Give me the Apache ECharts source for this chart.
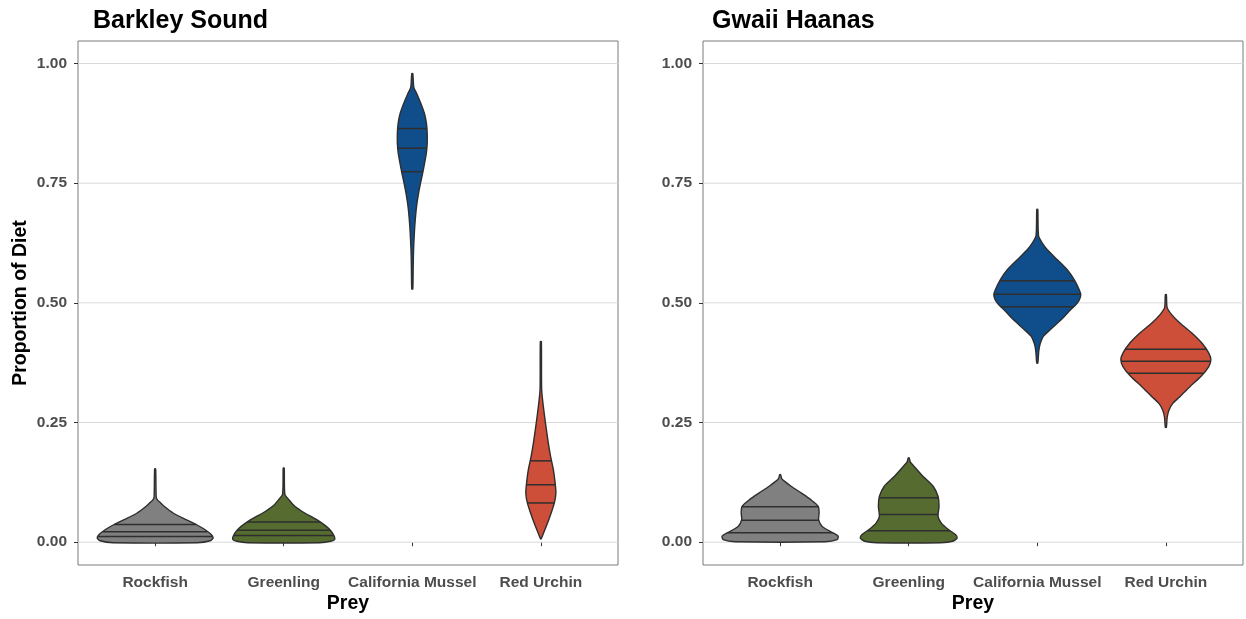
<!DOCTYPE html>
<html>
<head>
<meta charset="utf-8">
<script src="https://cdn.jsdelivr.net/npm/echarts@6/dist/echarts.min.js"></script>
<style>
html,body{margin:0;padding:0;background:#fff;}
#chart{width:1246px;height:619px;}
</style>
</head>
<body>
<div id="chart"></div>
<script>
// ---------- data ----------
const preys = ['Rockfish', 'Greenling', 'California Mussel', 'Red Urchin'];
const preyPositions = [1, 2, 3, 4];
const panelTitles = ['Barkley Sound', 'Gwaii Haanas'];
const yTicks = [0, 0.25, 0.5, 0.75, 1];
const yTickLabels = ['0.00', '0.25', '0.50', '0.75', '1.00'];

// violin outlines: proportion values (y) and half-widths (in category-band units)
// Barkley Sound
const bsRockfishY = [0.153, 0.095, 0.089, 0.082, 0.075, 0.061, 0.047, 0.037, 0.026, 0.016, 0.009, 0.003, -0.001];
const bsRockfishW = [0.004, 0.008, 0.016, 0.043, 0.070, 0.140, 0.241, 0.319, 0.389, 0.436, 0.451, 0.428, 0.327];
const bsGreenlingY = [0.155, 0.100, 0.089, 0.075, 0.061, 0.047, 0.033, 0.023, 0.0125, 0.006, 0.002, -0.001];
const bsGreenlingW = [0.004, 0.009, 0.039, 0.086, 0.163, 0.257, 0.331, 0.369, 0.393, 0.397, 0.366, 0.280];
const bsMusselY = [0.979, 0.950, 0.937, 0.917, 0.896, 0.875, 0.854, 0.833, 0.812, 0.791, 0.770, 0.750, 0.729, 0.701, 0.673, 0.645, 0.611, 0.576, 0.529];
const bsMusselW = [0.004, 0.012, 0.035, 0.066, 0.094, 0.110, 0.116, 0.116, 0.109, 0.095, 0.080, 0.064, 0.049, 0.033, 0.023, 0.016, 0.010, 0.007, 0.004];
const bsUrchinY = [0.419, 0.320, 0.291, 0.263, 0.235, 0.207, 0.179, 0.152, 0.124, 0.103, 0.082, 0.061, 0.040, 0.020, 0.007];
const bsUrchinW = [0.004, 0.006, 0.016, 0.029, 0.043, 0.058, 0.076, 0.097, 0.111, 0.117, 0.105, 0.080, 0.052, 0.022, 0.002];
// quartiles (25%, 50%, 75%)
const bsQuartiles = [
  [0.012, 0.022, 0.037],
  [0.014, 0.025, 0.042],
  [0.774, 0.823, 0.864],
  [0.082, 0.120, 0.170]
];

// Gwaii Haanas
const ghRockfishY = [0.141, 0.133, 0.125, 0.117, 0.103, 0.089, 0.075, 0.061, 0.047, 0.033, 0.020, 0.0125, 0.0056, 0.001];
const ghRockfishW = [0.004, 0.012, 0.045, 0.085, 0.163, 0.238, 0.296, 0.303, 0.299, 0.327, 0.408, 0.451, 0.443, 0.350];
const ghGreenlingY = [0.176, 0.168, 0.159, 0.138, 0.117, 0.096, 0.075, 0.054, 0.040, 0.026, 0.016, 0.009, 0.002, -0.001];
const ghGreenlingW = [0.004, 0.012, 0.040, 0.110, 0.190, 0.228, 0.236, 0.228, 0.254, 0.311, 0.363, 0.377, 0.342, 0.249];
const ghMusselY = [0.695, 0.640, 0.625, 0.611, 0.590, 0.569, 0.548, 0.527, 0.517, 0.506, 0.495, 0.485, 0.465, 0.444, 0.430, 0.415, 0.400, 0.374];
const ghMusselW = [0.004, 0.010, 0.039, 0.078, 0.156, 0.233, 0.288, 0.327, 0.338, 0.327, 0.296, 0.257, 0.187, 0.101, 0.047, 0.023, 0.012, 0.004];
const ghUrchinY = [0.517, 0.490, 0.475, 0.458, 0.437, 0.416, 0.395, 0.381, 0.367, 0.346, 0.325, 0.304, 0.290, 0.275, 0.260, 0.240];
const ghUrchinW = [0.004, 0.010, 0.047, 0.109, 0.202, 0.280, 0.334, 0.350, 0.334, 0.272, 0.187, 0.109, 0.054, 0.023, 0.010, 0.004];
const ghQuartiles = [
  [0.020, 0.046, 0.074],
  [0.024, 0.058, 0.093],
  [0.492, 0.518, 0.546],
  [0.353, 0.378, 0.403]
];

// ---------- styling ----------
const fillColors = ['#808080', '#556B2F', '#104E8B', '#CD4F39'];
const outline = '#2e2e2e';
const FONT = '"Liberation Sans", Arial, Helvetica, sans-serif';

const bsProfiles = [
  {y: bsRockfishY, w: bsRockfishW},
  {y: bsGreenlingY, w: bsGreenlingW},
  {y: bsMusselY, w: bsMusselW},
  {y: bsUrchinY, w: bsUrchinW}
];
const ghProfiles = [
  {y: ghRockfishY, w: ghRockfishW},
  {y: ghGreenlingY, w: ghGreenlingW},
  {y: ghMusselY, w: ghMusselW},
  {y: ghUrchinY, w: ghUrchinW}
];

function widthAt(p, q) {
  const ys = p.y, ws = p.w;
  for (let k = 0; k < ys.length - 1; k++) {
    const y0 = ys[k], y1 = ys[k + 1];
    if ((q <= y0 && q >= y1) || (q >= y0 && q <= y1)) {
      const t = (q - y0) / (y1 - y0 || 1);
      return ws[k] + t * (ws[k + 1] - ws[k]);
    }
  }
  return 0;
}

function violinRender(profiles, quartiles) {
  return function (params, api) {
    const i = params.dataIndex;
    const xc = api.value(0);
    const p = profiles[i];
    const right = p.y.map((y, k) => api.coord([xc + p.w[k], y]));
    const left = p.y.map((y, k) => api.coord([xc - p.w[k], y])).reverse();
    const children = [{
      type: 'polygon',
      shape: {points: right.concat(left), smooth: 0.25},
      style: {fill: fillColors[i], stroke: outline, lineWidth: 1.4}
    }];
    quartiles[i].forEach(q => {
      const hw = widthAt(p, q);
      const a = api.coord([xc - hw, q]);
      const b = api.coord([xc + hw, q]);
      children.push({
        type: 'line',
        shape: {x1: a[0], y1: a[1], x2: b[0], y2: b[1]},
        style: {stroke: outline, lineWidth: 1.5}
      });
    });
    return {type: 'group', children: children};
  };
}

function gridRender(params, api) {
  const cs = params.coordSys;
  const y = api.coord([1, api.value(0)])[1];
  return {
    type: 'line',
    shape: {x1: cs.x, y1: y, x2: cs.x + cs.width, y2: y},
    style: {stroke: '#d9d9d9', lineWidth: 1}
  };
}

const grids = [
  {left: 78, top: 41, width: 540, height: 524},
  {left: 703, top: 41, width: 540, height: 524}
];

function xAxisCfg(gi) {
  return {
    gridIndex: gi, type: 'value', min: 0.4, max: 4.6,
    axisLine: {show: false},
    splitLine: {show: false},
    axisTick: {show: true, customValues: preyPositions, length: 4, lineStyle: {color: '#333', width: 1}},
    axisLabel: {
      show: true, customValues: preyPositions, margin: 10,
      formatter: v => preys[Math.round(v) - 1],
      fontFamily: FONT, fontWeight: 'bold', fontSize: 15.5, color: '#4d4d4d'
    }
  };
}
function yAxisCfg(gi) {
  return {
    gridIndex: gi, type: 'value', min: -0.0476, max: 1.047,
    axisLine: {show: false},
    splitLine: {show: false},
    axisTick: {show: true, customValues: yTicks, length: 4, lineStyle: {color: '#333', width: 1}},
    axisLabel: {
      show: true, customValues: yTicks, margin: 11,
      formatter: v => { const k = yTicks.findIndex(t => Math.abs(t - v) < 1e-6); return k >= 0 ? yTickLabels[k] : ''; },
      fontFamily: FONT, fontWeight: 'bold', fontSize: 15.5, color: '#4d4d4d'
    }
  };
}

const chart = echarts.init(document.getElementById('chart'), null, {renderer: 'canvas'});
chart.setOption({
  animation: false,
  backgroundColor: '#ffffff',
  grid: grids.map(g => Object.assign({show: true, borderColor: '#7a7a7a', borderWidth: 1, backgroundColor: 'transparent'}, g)),
  xAxis: [xAxisCfg(0), xAxisCfg(1)],
  yAxis: [yAxisCfg(0), yAxisCfg(1)],
  series: [
    {type: 'custom', xAxisIndex: 0, yAxisIndex: 0, z: 1, silent: true, data: yTicks.map(v => [v]), encode: {y: 0}, renderItem: gridRender},
    {type: 'custom', xAxisIndex: 1, yAxisIndex: 1, z: 1, silent: true, data: yTicks.map(v => [v]), encode: {y: 0}, renderItem: gridRender},
    {type: 'custom', xAxisIndex: 0, yAxisIndex: 0, z: 3, data: preyPositions.map(v => [v]), encode: {x: 0}, renderItem: violinRender(bsProfiles, bsQuartiles)},
    {type: 'custom', xAxisIndex: 1, yAxisIndex: 1, z: 3, data: preyPositions.map(v => [v]), encode: {x: 0}, renderItem: violinRender(ghProfiles, ghQuartiles)}
  ],
  graphic: [
    {type: 'text', left: 93, top: 9, style: {text: panelTitles[0], font: 'bold 25px ' + FONT, fill: '#000'}},
    {type: 'text', left: 712, top: 9, style: {text: panelTitles[1], font: 'bold 25px ' + FONT, fill: '#000'}},
    {type: 'text', x: 348, y: 604, style: {text: 'Prey', font: 'bold 19.5px ' + FONT, fill: '#000', align: 'center', verticalAlign: 'middle'}},
    {type: 'text', x: 973, y: 604, style: {text: 'Prey', font: 'bold 19.5px ' + FONT, fill: '#000', align: 'center', verticalAlign: 'middle'}},
    {type: 'text', x: 21, y: 303, rotation: Math.PI / 2, style: {text: 'Proportion of Diet', font: 'bold 19.5px ' + FONT, fill: '#000', align: 'center', verticalAlign: 'middle'}}
  ]
});
</script>
</body>
</html>
